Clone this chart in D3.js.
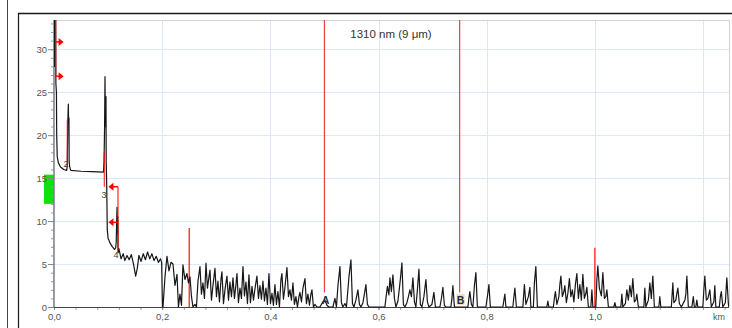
<!DOCTYPE html>
<html><head><meta charset="utf-8">
<script src="https://cdn.jsdelivr.net/npm/d3@7"></script>
<style>body{margin:0;background:#fff}svg{display:block}text{font-family:"Liberation Sans",Arial,sans-serif}</style>
</head><body><svg id="c" width="732" height="328"></svg>
<script>
// ---------- data ----------
const title = "1310 nm (9 μm)";
const xLabelTicks = [0, 0.2, 0.4, 0.6, 0.8, 1.0];
const xGridKm = [0.2, 0.4, 0.6, 0.8, 1.0, 1.2];
const yTicks = [0, 5, 10, 15, 20, 25, 30];
const xUnit = "km";

const traceKm = [0,0.001,0.0015,0.003,0.0035,0.0045,0.005,0.006,0.008,0.012,0.018,0.0235,0.0245,0.0255,0.0265,0.027,0.0277,0.028,0.029,0.031,0.050,0.070,0.0915,0.0925,0.0935,0.0943,0.095,0.0961,0.0965,0.0975,0.0985,0.100,0.104,0.108,0.112,0.114,0.115,0.1165,0.1172,0.118,0.1185,0.120,0.124,0.128,0.131,0.135,0.139,0.143,0.147,0.151,0.154,0.157,0.161,0.165,0.169,0.173,0.177,0.181,0.185,0.189,0.193,0.197,0.199,0.2005,
0.2015,0.2052,0.2089,0.2126,0.2163,0.2200,0.2237,0.2274,0.2301,0.2329,0.2357,0.2384,0.2421,0.2458,0.2486,0.2514,0.2542,0.2569,0.2606,0.2634,0.2662,0.2699,0.2726,0.2754,0.2782,0.2810,0.2837,0.2865,0.2884,0.2911,0.2939,0.2976,0.3004,0.3031,0.3059,0.3087,0.3105,0.3133,0.3161,0.3198,0.3226,0.3253,0.3281,0.3309,0.3336,0.3364,0.3383,0.3410,0.3438,0.3466,0.3494,0.3521,0.3549,0.3577,0.3604,0.3632,0.3660,0.3688,0.3715,0.3752,0.3780,0.3808,0.3835,0.3863,0.3891,0.3919,0.3946,0.3974,0.4002,0.4030,0.4057,0.4085,0.4113,0.4140,0.4168,0.4196,0.4214,0.4242,0.4270,0.4307,0.4335,0.4362,0.4390,0.4418,0.4445,0.4473,0.4501,0.4529,0.4547,0.4575,0.4603,0.4640,0.4667,0.4695,0.4723,0.4750,0.4769,0.4797,0.4824,0.4861,0.4917,0.4972,0.5009,0.5046,0.5083,0.5157,0.5194,0.5222,0.5250,0.5287,0.5314,0.5342,0.5379,0.5407,0.5434,0.5453,0.5490,0.5518,0.5545,0.5582,0.5619,0.5647,0.5675,0.5712,0.5739,0.5767,0.5795,0.5823,
0.6118,0.6146,0.6165,0.6192,0.6211,0.6238,0.6266,0.6294,0.6322,0.6359,0.6386,0.6405,0.6433,0.6460,0.6488,0.6525,0.6553,0.6580,0.6608,0.6636,0.6664,0.6691,0.6719,0.6747,0.6774,0.6802,0.6839,0.6876,0.6904,0.6932,0.6987,0.7024,0.7052,0.7079,0.7135,0.7163,0.7190,0.7218,0.7246,0.7338,0.7357,0.7375,0.7403,0.7652,0.7671,0.7689,0.7717,0.7745,0.7773,0.7800,0.7828,0.7985,0.8013,0.8041,0.8068,0.8299,0.8318,0.8336,0.8355,0.8484,0.8503,0.8521,0.8549,0.8669,0.8697,0.8725,0.8771,0.8799,0.8817,0.8863,0.8882,0.8909,0.8937,0.9113,0.9131,0.9150,0.9233,0.9251,0.9270,0.9298,0.9335,0.9353,0.9372,0.9399,0.9427,0.9445,0.9473,0.9501,0.9529,0.9556,0.9584,0.9612,0.9640,0.9667,0.9695,0.9723,0.9750,0.9778,0.9806,0.9834,0.9852,0.9880,0.9926,0.9945,0.9963,1.0018,1.0037,1.0055,1.0083,1.0120,1.0148,1.0176,1.0203,1.0222,1.0250,1.0351,1.0370,1.0388,1.0481,1.0499,1.0518,1.0564,1.0591,1.0619,1.0647,1.0675,1.0702,1.0730,1.0758,1.0776,1.0804,1.0906,1.0924,1.0943,1.0989,1.1017,1.1044,1.1072,1.1100,1.1183,1.1201,1.1220,1.1414,1.1442,1.1460,1.1497,1.1516,1.1534,1.1562,1.1599,1.1664,1.1682,1.1701,1.1728,1.1793,1.1821,1.1839,1.1867,1.1885,1.1904,1.1996,1.2015,1.2033,1.2061,1.2089,1.2126,1.2153,1.2200,1.2218,1.2237,1.2301,1.2320,1.2338,1.2366,1.2412,1.2440,1.2468,1.2477];

const traceDb = [36,28,36,36,26,25,20,17.5,16.8,16.3,16.0,15.9,16.5,21.6,23.6,21.5,22,17,16.3,15.9,15.8,15.75,15.7,17,20.8,26.8,21,24.5,17,14,9,8,7.4,7.0,6.7,6.9,7.5,11.6,8.5,10.5,6.3,6.8,5.6,6.2,5.4,6.0,5.5,6.1,5.0,3.6,4.5,6.0,5.3,6.2,5.5,6.4,5.6,6.2,5.4,5.9,5.2,5.6,5.2,0,
0,3.5,5.9,4.2,5.2,5.0,2.5,3.8,0,1.5,0.2,4.9,3.2,3.9,2.8,3.5,1.2,0,0.3,0,3,4.7,1.5,2.8,1.0,5.1,2.2,3.5,4.3,0.8,2.5,4.5,1.2,3.0,0.6,3.2,4.1,0.4,2.0,3.6,0.8,2.9,1.2,3.4,1.0,2.6,3.9,0.5,2.2,1.0,4.7,1.3,2.9,0.4,3.75,0.5,2.4,0.8,2.1,3.6,1.0,2.5,0.9,3.0,0.7,2.2,0.3,3.9,0.4,1.6,0.2,2.6,0.3,1.8,0,3.2,3.9,0.9,2.3,4.6,1.2,2.0,0.8,2.8,0.3,1.2,0,1.2,1.7,0.6,2.2,3.3,0.4,1.5,0.2,1.5,2.0,0,0.3,0,0,0.6,0.8,0.2,0,0,1.0,0,2.5,4.7,0.5,0,0.4,0,2,3.5,5.5,0.4,0,0.8,2.0,0.3,0,0.5,1.5,2.6,0.3,0,
0,1.5,2.4,1.4,3.4,1.8,3.75,1.0,0,0.7,2.2,3.3,5.15,0.3,0,0.5,1.2,2.0,1.2,3.4,0.6,0,2.0,4.4,0.3,0,1.2,3.2,0.6,0,0.3,1.7,0,0,0,1.0,2.3,0.2,0,0,1.0,2.5,0,0,1.0,1.8,0.3,0,2.5,4.0,0,0,1.2,2.6,0,0,0.8,1.5,0,0,1.2,2.2,0,0,2.6,0.3,1.2,2.3,0,0,2.8,4.7,0,0,0.7,0,0,1.0,1.8,0.3,1.2,2.6,3.6,1.2,1.8,2.5,0.5,1.6,3.3,1.2,2.0,0.6,2.6,3.9,1.0,2.6,0.8,3.8,1.0,1.6,2.3,0,0,2.0,0,0,3.2,4.8,2.2,1.3,4.0,1.0,1.2,2.0,0,0,0.5,0,0,1.5,0,0.4,2.0,0.8,2.5,1.2,3.3,0.6,0.8,1.5,0,0,2.2,0,0.8,2.8,1.0,3.6,0,0,1.2,0,0,2.8,0.5,0.8,1.6,2.2,0.4,0,0.8,1.5,3.6,0,0,1.2,0,0,0.8,0,0,2.0,3.6,0.8,1.0,2.0,0,0.6,2.5,0,0,1.2,1.8,0,0.5,3.4,0.4,0];

// event markers
const startArrowKm = 0.003, startArrowDb = [30.85, 26.86];
const evLabels = ["2", "3", "4"];
const evLabelKm = [0.022, 0.0924, 0.1146];
const evLabelDb = [16.3, 12.7, 5.7];
const evLineKm = [0.0246, 0.093];
const evLineTop = [21.7, 18.0];
const evLineBot = [16.3, 14.0];
const ev4ArrowTipKm = 0.1007, ev4LineKm = 0.1183, ev4ArrowDb = [14.0, 9.85], ev4LineBotDb = 6.6;
const markerKm = [0.25, 1.0];
const markerTopDb = [9.2, 6.9];
const cursorKm = [0.5, 0.75];
const cursorNames = ["A", "B"];
const cursorBotDb = 1.7;
const greenBandDb = [12.0, 15.4];

// ---------- drawing ----------
const svg = d3.select("#c");
const L = 54, R = 729, T = 20, B = 307;
const x = d3.scaleLinear().domain([0, 1.248]).range([L, R]);
const y = d3.scaleLinear().domain([0, 33.4]).range([B, T]);
const comma = v => d3.format(".1f")(v).replace(".", ",");

// outer frame
svg.append("line").attr("x1",7.5).attr("x2",7.5).attr("y1",0).attr("y2",328).attr("stroke","#444");
svg.append("line").attr("x1",18).attr("x2",732).attr("y1",13.5).attr("y2",13.5).attr("stroke","#1a1a1a").attr("stroke-width",1.6);
svg.append("line").attr("x1",18.5).attr("x2",18.5).attr("y1",13).attr("y2",328).attr("stroke","#1a1a1a").attr("stroke-width",1.2);
// inner plot border
svg.append("path").attr("d",`M${L},${T+0.5}H${R+0.5}V${B}`).attr("fill","none").attr("stroke","#d2d2d2");

// grid
const g = svg.append("g");
g.selectAll(".hg").data(yTicks.filter(d=>d>0)).join("line")
  .attr("x1",L).attr("x2",R).attr("y1",d=>Math.round(y(d))+0.5).attr("y2",d=>Math.round(y(d))+0.5)
  .attr("stroke","#d9e8fb");
g.selectAll(".vg").data(xGridKm).join("line")
  .attr("x1",d=>Math.round(x(d))+0.5).attr("x2",d=>Math.round(x(d))+0.5).attr("y1",T+1).attr("y2",B)
  .attr("stroke","#d9e8fb");

// title
svg.append("text").attr("x",391).attr("y",38).attr("text-anchor","middle")
  .attr("font-size",11.5).attr("fill","#333").text(title);

// green band
svg.append("rect").attr("x",44).attr("width",10)
  .attr("y",y(greenBandDb[1])).attr("height",y(greenBandDb[0])-y(greenBandDb[1]))
  .attr("fill","#10e010");

// y axis
const yAxis = svg.append("g").attr("transform",`translate(${L},0)`)
  .call(d3.axisLeft(y).tickValues(d3.range(0,34,1)).tickSize(3).tickFormat(""));
yAxis.select(".domain").remove();
yAxis.selectAll("line").attr("stroke","#999");
const yMaj = svg.append("g").attr("transform",`translate(${L},0)`)
  .call(d3.axisLeft(y).tickValues(yTicks).tickSize(6).tickPadding(1).tickFormat(d3.format("d")));
yMaj.select(".domain").remove();
yMaj.selectAll("line").attr("stroke","#888");
yMaj.selectAll("text").attr("font-size",9.5).attr("fill","#555").attr("font-family","Liberation Sans, Arial, sans-serif");
svg.append("line").attr("x1",L).attr("x2",L).attr("y1",T).attr("y2",B+1).attr("stroke","#7a8490").attr("stroke-width",1.6);

// x axis
const xMin = svg.append("g").attr("transform",`translate(0,${B})`)
  .call(d3.axisBottom(x).tickValues(d3.range(0,1.25,0.04)).tickSize(3).tickFormat(""));
xMin.select(".domain").remove();
xMin.selectAll("line").attr("stroke","#999");
const xMaj = svg.append("g").attr("transform",`translate(0,${B})`)
  .call(d3.axisBottom(x).tickValues(xLabelTicks).tickSize(3).tickPadding(3).tickFormat(comma));
xMaj.select(".domain").remove();
xMaj.selectAll("line").attr("stroke","#888");
xMaj.selectAll("text").attr("font-size",9.5).attr("fill","#555").attr("font-family","Liberation Sans, Arial, sans-serif");
svg.append("line").attr("x1",L).attr("x2",R).attr("y1",B+0.5).attr("y2",B+0.5).attr("stroke","#444");
svg.append("text").attr("x",713).attr("y",320).attr("font-size",9).attr("fill","#555").text(xUnit);

// clip
svg.append("clipPath").attr("id","clip").append("rect").attr("x",L).attr("y",T).attr("width",R-L).attr("height",B-T+1);

// markers
const mk = svg.append("g");
mk.selectAll(".m").data(markerKm).join("line")
  .attr("x1",d=>x(d)).attr("x2",d=>x(d)).attr("y1",(d,i)=>y(markerTopDb[i])).attr("y2",B)
  .attr("stroke","#ff1010").attr("stroke-width",1.2);
mk.selectAll(".c").data(cursorKm).join("line")
  .attr("x1",d=>x(d)).attr("x2",d=>x(d)).attr("y1",T).attr("y2",y(cursorBotDb))
  .attr("stroke","#f03c3c").attr("stroke-width",1.2);

// trace
const pts = traceKm.map((k,i)=>[k,traceDb[i]]);
svg.append("path").datum(pts).attr("clip-path","url(#clip)")
  .attr("d",d3.line().x(d=>x(d[0])).y(d=>y(d[1])))
  .attr("fill","none").attr("stroke","#161616").attr("stroke-width",1.2).attr("stroke-linejoin","round");

// event lines
const ev = svg.append("g").attr("clip-path","url(#clip)");
const red = "#ff0000";
ev.append("line").attr("x1",x(startArrowKm)).attr("x2",x(startArrowKm)).attr("y1",T).attr("y2",y(startArrowDb[1]))
  .attr("stroke",red).attr("stroke-width",1.2);
startArrowDb.forEach(db=>{
  const x0 = x(startArrowKm), yy = y(db);
  ev.append("line").attr("x1",x0).attr("x2",x0+4).attr("y1",yy).attr("y2",yy).attr("stroke",red).attr("stroke-width",1.5);
  ev.append("path").attr("d",`M${x0+3},${yy-4}L${x0+8},${yy}L${x0+3},${yy+4}Z`).attr("fill",red);
});
evLineKm.forEach((k,i)=>{
  ev.append("line").attr("x1",x(k)).attr("x2",x(k)).attr("y1",y(evLineTop[i])).attr("y2",y(evLineBot[i]))
    .attr("stroke",red).attr("stroke-width",1.2).attr("opacity",0.8);
});
ev.append("line").attr("x1",x(ev4LineKm)).attr("x2",x(ev4LineKm)).attr("y1",y(ev4ArrowDb[0])).attr("y2",y(ev4LineBotDb))
  .attr("stroke",red).attr("stroke-width",1.2).attr("opacity",0.85);
ev4ArrowDb.forEach(db=>{
  const xt = x(ev4ArrowTipKm), yy = y(db);
  ev.append("line").attr("x1",xt+3).attr("x2",x(ev4LineKm)).attr("y1",yy).attr("y2",yy).attr("stroke",red).attr("stroke-width",1.5);
  ev.append("path").attr("d",`M${xt+5},${yy-4}L${xt},${yy}L${xt+5},${yy+4}Z`).attr("fill",red);
});
svg.selectAll(".el").data(evLabels).join("text")
  .attr("x",(d,i)=>x(evLabelKm[i])).attr("y",(d,i)=>y(evLabelDb[i])).attr("text-anchor","middle")
  .attr("font-size",9).attr("fill","#444").text(d=>d);

// cursor labels
svg.append("rect").attr("x",x(cursorKm[1])-3).attr("y",294).attr("width",8).attr("height",11)
  .attr("fill","#f6cf9c").attr("opacity",0.8);
svg.selectAll(".cl").data(cursorNames).join("text")
  .attr("x",d=>x(cursorKm[cursorNames.indexOf(d)])+1).attr("y",304).attr("text-anchor","middle")
  .attr("font-size",10.5).attr("font-weight","bold").attr("fill","#1d2b4c").text(d=>d);
</script></body></html>
